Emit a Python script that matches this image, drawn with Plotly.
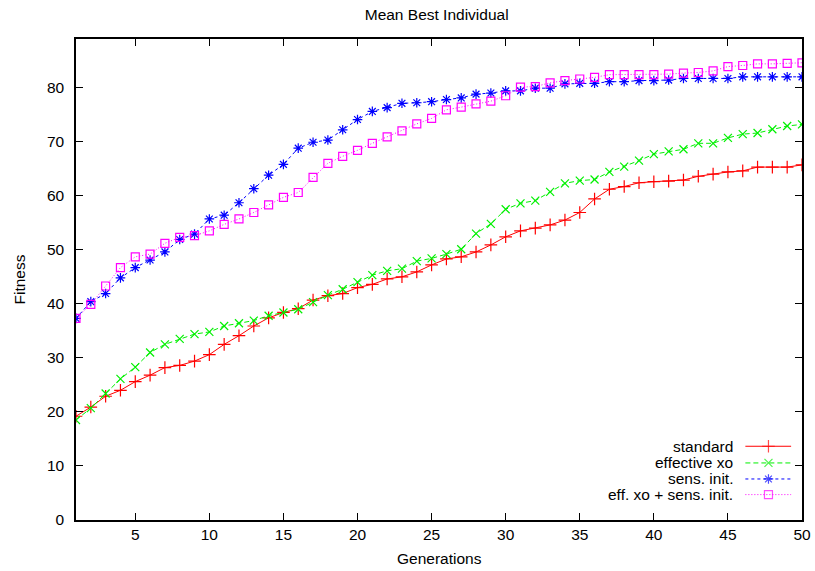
import plotly.graph_objects as go

generations = list(range(1, 51))

standard = [19.2, 20.9, 22.9, 24.0, 25.6, 26.8, 28.2, 28.6, 29.4, 30.6,
            32.5, 34.1, 35.9, 37.4, 38.4, 39.1, 40.7, 41.5, 41.9, 43.0,
            43.6, 44.6, 45.0, 45.9, 47.2, 48.3, 48.7, 49.6, 50.9, 52.4,
            53.5, 54.0, 54.6, 55.5, 56.9, 59.4, 61.2, 61.7, 62.4, 62.6,
            62.7, 62.9, 63.6, 64.0, 64.4, 64.6, 65.3, 65.3, 65.3, 65.7]

effective_xo = [18.5, 20.7, 23.4, 26.1, 28.3, 31.0, 32.5, 33.5, 34.4, 34.8,
                35.9, 36.4, 36.9, 37.8, 38.4, 39.0, 40.3, 41.6, 42.7, 44.0,
                45.3, 46.1, 46.5, 47.9, 48.4, 49.2, 50.1, 53.0, 54.8, 57.5,
                58.6, 59.1, 60.7, 62.3, 62.8, 63.0, 64.4, 65.4, 66.5, 67.7,
                68.2, 68.6, 69.7, 69.7, 70.7, 71.4, 71.6, 72.3, 72.9, 73.2]

sens_init = [37.3, 40.4, 41.9, 44.8, 46.7, 48.1, 49.6, 51.9, 52.9, 55.7,
             56.4, 58.7, 61.3, 63.8, 65.8, 68.8, 69.9, 70.3, 72.2, 74.1,
             75.6, 76.3, 77.1, 77.2, 77.4, 77.8, 78.1, 78.8, 79.0, 79.4,
             79.4, 79.9, 79.9, 80.7, 80.8, 80.8, 81.1, 81.1, 81.3, 81.3,
             81.4, 81.7, 81.7, 81.7, 81.7, 82.0, 82.0, 82.0, 82.0, 82.0]

eff_xo_sens_init = [37.3, 39.9, 43.3, 46.7, 48.7, 49.2, 51.2, 52.3, 52.6, 53.5,
                    54.7, 55.7, 56.9, 58.3, 59.7, 60.6, 63.4, 66.0, 67.3, 68.4,
                    69.7, 70.9, 72.0, 73.3, 74.3, 75.9, 76.4, 77.0, 77.5, 78.5,
                    80.1, 80.2, 80.9, 81.3, 81.6, 81.9, 82.4, 82.4, 82.4, 82.4,
                    82.5, 82.7, 82.8, 83.1, 83.9, 84.1, 84.4, 84.4, 84.5, 84.6]

series_names = ["standard", "effective xo", "sens. init.", "eff. xo + sens. init."]
series_values = [standard, effective_xo, sens_init, eff_xo_sens_init]
x_ticks = [5, 10, 15, 20, 25, 30, 35, 40, 45, 50]
y_ticks = [0, 10, 20, 30, 40, 50, 60, 70, 80]

colors = ["#ff0000", "#00f000", "#0000ff", "#ff00ff"]
dashes = ["solid", "5px,3px", "3px,3px", "1px,2px"]
symbols = ["cross-thin", "x-thin", "asterisk", "square-open"]
msizes = [9, 8, 8, 8]

FONT = "Liberation Sans, Arial, Helvetica, sans-serif"
FS = 15.5

fig = go.Figure()

for name, vals, c, d, s, ms in zip(series_names, series_values, colors, dashes, symbols, msizes):
    fig.add_trace(go.Scatter(
        x=generations, y=vals, mode="lines+markers", name=name,
        line=dict(color=c, width=1, dash=d),
        marker=dict(symbol=s, size=ms, color=c, line=dict(color=c, width=1.2)),
        showlegend=False, hoverinfo="x+y+name",
    ))

# gnuplot-style key (text left of sample) drawn in overlay axes
key_text_x = 0.9077
key_line_x = [0.922, 0.9538, 0.985]
key_rows = [0.1533, 0.1186, 0.0853, 0.0528]
annotations = []
for name, c, d, s, ms, ky in zip(series_names, colors, dashes, symbols, msizes, key_rows):
    fig.add_trace(go.Scatter(
        x=key_line_x, y=[ky, ky, ky], xaxis="x2", yaxis="y2",
        mode="lines+markers", showlegend=False, hoverinfo="skip",
        line=dict(color=c, width=1, dash=d),
        marker=dict(symbol=s, size=[0, ms, 0], color=c, line=dict(color=c, width=1.2)),
    ))
    annotations.append(dict(text=name, x=key_text_x, y=ky, xref="paper", yref="paper",
                            xanchor="right", yanchor="middle", showarrow=False,
                            font=dict(family=FONT, size=FS, color="#000000")))

annotations.append(dict(text="Generations", x=0.5, y=-0.0797, xref="paper", yref="paper",
                        xanchor="center", yanchor="middle", showarrow=False,
                        font=dict(family=FONT, size=FS, color="#000000")))
annotations.append(dict(text="Fitness", x=-0.0785, y=0.5, xref="paper", yref="paper",
                        xanchor="center", yanchor="middle", showarrow=False, textangle=-90,
                        font=dict(family=FONT, size=FS, color="#000000")))

axis_common = dict(showline=True, linecolor="#000000", linewidth=1.5, mirror="ticks",
                   ticks="inside", ticklen=7, tickwidth=1, tickcolor="#000000",
                   showgrid=False, zeroline=False, automargin=False,
                   tickfont=dict(family=FONT, size=FS, color="#000000"))

fig.update_layout(
    width=815, height=571,
    margin=dict(l=76, r=13, t=39, b=51, autoexpand=False),
    paper_bgcolor="white", plot_bgcolor="white",
    title=dict(text="Mean Best Individual", x=0.5358, xref="container", xanchor="center",
               y=1 - 14.5 / 571, yref="container", yanchor="middle",
               font=dict(family=FONT, size=FS, color="#000000")),
    xaxis=dict(range=[1, 50], tickvals=x_ticks, ticklabelstandoff=0, **axis_common),
    yaxis=dict(range=[0, 89], tickvals=y_ticks, ticklabelstandoff=7, **axis_common),
    xaxis2=dict(range=[0, 1], overlaying="x", visible=False, fixedrange=True),
    yaxis2=dict(range=[0, 1], overlaying="y", visible=False, fixedrange=True),
    annotations=annotations,
)

# remove the default 8px page margin so the 815x571 figure fills the window exactly
fig.write_html("out.html",
               config={"displayModeBar": False, "responsive": False},
               post_script="document.body.style.margin='0';document.body.style.overflow='hidden';")
